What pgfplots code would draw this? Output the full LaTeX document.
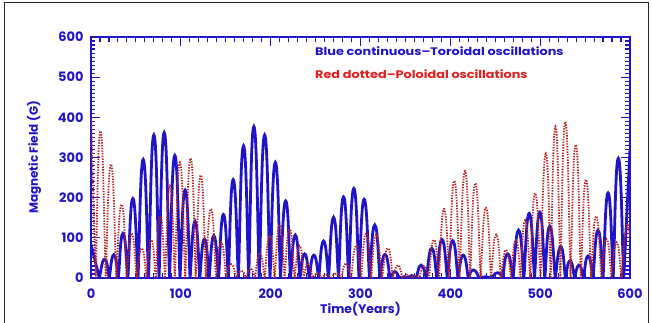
\documentclass[border=0pt]{standalone}
\usepackage{fontspec}
\setmainfont{Poppins}
\newfontfamily\legendfont{Poppins}[FakeStretch=1.17]
\usepackage{pgfplots}
\pgfplotsset{compat=1.18}
\definecolor{idlblue}{RGB}{32,20,200}
\definecolor{idlred}{RGB}{185,35,35}
\definecolor{txtred}{RGB}{225,30,30}
\begin{document}
\begin{tikzpicture}
\useasboundingbox (0,0) rectangle (652bp,323bp);
\draw[line width=1.6bp, black!85] (4.5bp,0) -- (4.5bp,320.5bp) -- (648.5bp,320.5bp) -- (648.5bp,0);
\begin{axis}[
  at={(91bp,45bp)}, anchor=south west,
  scale only axis, width=539bp, height=241bp,
  xmin=0, xmax=600, ymin=0, ymax=600,
  xtick={0,100,...,600}, ytick={0,100,...,600},
  minor x tick num=9, minor y tick num=9,
  tick align=inside,
  major tick length=9bp, minor tick length=4.5bp,
  tick style={idlblue, line width=1.1bp},
  axis line style={idlblue, line width=1.8bp},
  tick label style={font=\fontsize{13}{15}\selectfont\bfseries, text=idlblue},
  /pgf/number format/assume math mode=true,
  xticklabel style={yshift=-7bp},
  yticklabel style={xshift=-4bp},
  xlabel={Time(Years)}, ylabel={Magnetic Field (G)},
  xlabel style={font=\fontsize{12.5}{15}\selectfont\bfseries, text=idlblue, at={(axis description cs:0.5,0)}, anchor=center, yshift=-31bp},
  ylabel style={font=\fontsize{12}{14}\selectfont\bfseries, text=idlblue, at={(axis description cs:0,0.5)}, anchor=center, yshift=57bp},
]
\addplot[idlblue, line width=2.8bp, smooth, tension=1] coordinates {
(0,84) (9.3,0) (9.3,0) (15.2,47) (20.3,0)(20.3,0) (25.4,58) (30.5,0)(30.5,0) (35.6,111) (41.1,0)(41.1,0) (46.6,198) (52.35,0)(52.35,0) (58.1,295) (64.05,0)(64.05,0) (70,356) (75.75,0)(75.75,0) (81.5,362) (87.4,0)(87.4,0) (93.3,305) (99.05,0)(99.05,0) (104.8,219) (110.3,0)(110.3,0) (115.8,141) (121.05,0)(121.05,0) (126.3,97) (131.5,0)(131.5,0) (136.7,105) (142.05,0)(142.05,0) (147.4,158) (152.85,0)(152.85,0) (158.3,245) (164.05,0)(164.05,0) (169.8,329) (175.55,0)(175.55,0) (181.3,377) (187.3,0)(187.3,0) (193.3,356) (199.25,0)(199.25,0) (205.2,288) (210.95,0)(210.95,0) (216.7,192) (222.05,0)(222.05,0) (227.4,107) (232.6,0)(232.6,0) (237.8,60) (242.95,0)(242.95,0) (248.1,57) (253.5,0)(253.5,0) (258.9,92) (264.45,0)(264.45,0) (270,151) (275.55,0)(275.55,0) (281.1,202) (286.85,0)(286.85,0) (292.6,223) (298.35,0)(298.35,0) (304.1,196) (310,0)(310,0) (315.9,132) (321.6,0)(321.6,0) (327.3,59) (332.85,0)(332.85,0) (338.4,15) (343.2,0)(343.2,0) (348,3) (352.5,0)(352.5,0) (357,6) (362.2,0)(362.2,0) (367.4,32) (373.35,0)(373.35,0) (379.3,74) (385,0)(385,0) (390.7,96) (396.65,0)(396.65,0) (402.6,93) (408.5,0)(408.5,0) (414.4,57) (420,0)(420,0) (425.6,20) (432.3,0)(432.3,0) (439,3) (445.8,0)(445.8,0) (452.6,13) (458.15,0)(458.15,0) (463.7,60) (469.85,0)(469.85,0) (476,119) (481.9,0)(481.9,0) (487.8,161) (493.7,0)(493.7,0) (499.6,164) (505.15,0)(505.15,0) (510.7,129) (516.8,0)(516.8,0) (522.9,78) (528.1,0)(528.1,0) (533.3,43) (538.3,0)(538.3,0) (543.3,32) (548.3,0)(548.3,0) (553.3,55) (558.85,0)(558.85,0) (564.4,119) (570,0)(570,0) (575.6,212) (581.3,0)(581.3,0) (587,298) (593,0)(593,0) (600,320)
};
\addplot[idlred, line width=1.8bp, dash pattern=on 1.4bp off 1.3bp, smooth, tension=1] coordinates {
(0,400) (5.25,0)(5.25,0) (10.5,366) (16.35,0)(16.35,0) (22.2,283) (28.15,0)(28.15,0) (34.1,183) (39.65,0)(39.65,0) (45.2,111) (50.85,0)(50.85,0) (56.5,74) (61.75,0)(61.75,0) (67,95) (72.1,0)(72.1,0) (77.2,154) (82.5,0)(82.5,0) (87.8,230) (93.35,0)(93.35,0) (98.9,288) (104.9,0)(104.9,0) (110.9,298) (116.55,0)(116.55,0) (122.2,256) (127.85,0)(127.85,0) (133.5,172) (139.15,0)(139.15,0) (144.8,89) (150.4,0)(150.4,0) (156,34) (161.75,0)(161.75,0) (167.5,18) (172.5,0)(172.5,0) (177.5,24) (182.65,0)(182.65,0) (187.8,62) (193.35,0)(193.35,0) (198.9,105) (204.45,0)(204.45,0) (210,132) (215.5,0)(215.5,0) (221,122) (226.6,0)(226.6,0) (232.2,80) (236.85,0)(236.85,0) (241.5,37) (246.7,0)(246.7,0) (251.9,12) (256.9,0)(256.9,0) (261.9,8) (267.45,0)(267.45,0) (273,12) (278.5,0)(278.5,0) (284,37) (289.6,0)(289.6,0) (295.2,80) (300.75,0)(300.75,0) (306.3,112) (311.85,0)(311.85,0) (317.4,107) (323.9,0)(323.9,0) (330.4,74) (335.95,0)(335.95,0) (341.5,32) (346.75,0)(346.75,0) (352,8) (356.5,0)(356.5,0) (361,6) (365.75,0)(365.75,0) (370.5,30) (376.1,0)(376.1,0) (381.7,95) (387.35,0)(387.35,0) (393,172) (398.7,0)(398.7,0) (404.4,242) (410.35,0)(410.35,0) (416.3,266) (422.05,0)(422.05,0) (427.8,236) (433.7,0)(433.7,0) (439.6,175) (445.3,0)(445.3,0) (451,108) (456.5,0)(456.5,0) (462,70) (467.5,0)(467.5,0) (473,95) (478.15,0)(478.15,0) (483.3,144) (488.85,0)(488.85,0) (494.4,211) (500.35,0)(500.35,0) (506.3,310) (511.65,0)(511.65,0) (517,377) (522.5,0)(522.5,0) (528,389) (533.8,0)(533.8,0) (539.6,332) (545.3,0)(545.3,0) (551,245) (556.65,0)(556.65,0) (562.3,154) (568.05,0)(568.05,0) (573.8,97) (579.4,0)(579.4,0) (585,89) (590.5,0)(590.5,0) (596,128) (600,95)
};
\node[anchor=base west, inner sep=0, font=\fontsize{11}{13}\legendfont\bfseries, text=idlblue] at (axis description cs:0.4156,0.9224) {Blue continuous–Toroidal oscillations};
\node[anchor=base west, inner sep=0, font=\fontsize{11}{13}\legendfont\bfseries, text=txtred] at (axis description cs:0.4156,0.8286) {Red dotted–Poloidal oscillations};
\end{axis}
\end{tikzpicture}
\end{document}
